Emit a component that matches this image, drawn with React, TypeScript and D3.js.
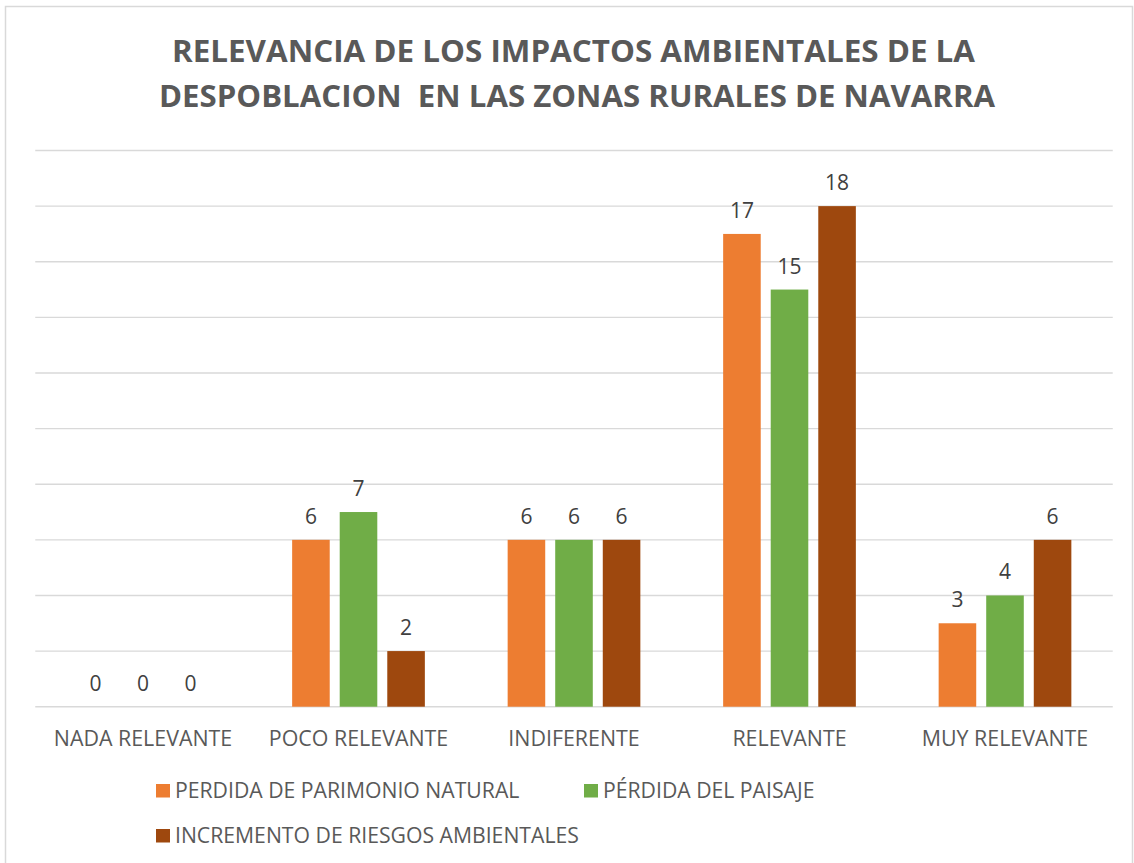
import React from "react";
import * as d3 from "d3";

const categories = ["NADA RELEVANTE", "POCO RELEVANTE", "INDIFERENTE", "RELEVANTE", "MUY RELEVANTE"];
const seriesNames = ["PERDIDA DE PARIMONIO NATURAL", "PÉRDIDA DEL PAISAJE", "INCREMENTO DE RIESGOS AMBIENTALES"];
const perdidaPatrimonio = [0, 6, 6, 17, 3];
const perdidaPaisaje = [0, 7, 6, 15, 4];
const incrementoRiesgos = [0, 2, 6, 18, 6];
const seriesColors = ["#ED7D31", "#70AD47", "#9E480E"];
const titleLines = ["RELEVANCIA DE LOS IMPACTOS AMBIENTALES DE LA", "DESPOBLACION  EN LAS ZONAS RURALES DE NAVARRA"];
const yTicks = [0, 2, 4, 6, 8, 10, 12, 14, 16, 18, 20];

const W = 1134;
const H = 863;

export default function App() {
  const series = [perdidaPatrimonio, perdidaPaisaje, incrementoRiesgos];
  const x0 = d3.scaleBand<string>().domain(categories).range([35.25, 1112.75]).paddingInner(0).paddingOuter(0);
  const groupW = 132.7;
  const x1 = d3
    .scaleBand<number>()
    .domain([0, 1, 2])
    .range([0, groupW])
    .paddingInner(0.21)
    .paddingOuter(0);
  const y = d3.scaleLinear().domain([0, 20]).range([706.7, 150.5]);
  const font = "'Open Sans', 'DejaVu Sans', sans-serif";

  return (
    <svg
      width={W}
      height={H}
      style={{ position: "absolute", left: 0, top: 0, background: "#fff" }}
      xmlns="http://www.w3.org/2000/svg"
    >
      <rect x={0} y={0} width={W} height={H} fill="#fff" />
      <rect x={5.5} y={6.5} width={1127} height={900} fill="none" stroke="#d9d9d9" strokeWidth={1.5} />

      {/* Title */}
      <text
        x={573.5}
        y={62}
        textAnchor="middle"
        fontFamily={font}
        fontWeight={700}
        fontSize={31}
        fill="#595959"
        textLength={803}
        lengthAdjust="spacingAndGlyphs"
      >
        {titleLines[0]}
      </text>
      <text
        x={577}
        y={107}
        textAnchor="middle"
        fontFamily={font}
        fontWeight={700}
        fontSize={31}
        fill="#595959"
        textLength={836}
        lengthAdjust="spacingAndGlyphs"
        style={{ whiteSpace: "pre" }}
      >
        {titleLines[1]}
      </text>

      {/* Gridlines */}
      {yTicks.map((t) => (
        <line
          key={t}
          x1={35.25}
          x2={1112.75}
          y1={y(t)}
          y2={y(t)}
          stroke="#d9d9d9"
          strokeWidth={1.4}
        />
      ))}

      {/* Bars */}
      {categories.map((c, ci) => {
        const gx = (x0(c) as number) + (x0.bandwidth() - groupW) / 2;
        return (
          <g key={c}>
            {series.map((s, si) => {
              const v = s[ci];
              const bx = gx + (x1(si) as number);
              const bw = x1.bandwidth();
              return (
                <g key={si}>
                  {v > 0 && (
                    <rect x={bx} y={y(v)} width={bw} height={y(0) - y(v)} fill={seriesColors[si]} />
                  )}
                  <text
                    x={bx + bw / 2}
                    y={y(v) - 16}
                    textAnchor="middle"
                    fontFamily={font}
                    fontSize={21}
                    fill="#404040"
                  >
                    {v}
                  </text>
                </g>
              );
            })}
            <text
              x={(x0(c) as number) + x0.bandwidth() / 2}
              y={745.5}
              textAnchor="middle"
              fontFamily={font}
              fontSize={21.4}
              fill="#595959"
            >
              {c}
            </text>
          </g>
        );
      })}

      {/* Legend */}
      {[
        { i: 0, x: 156, y: 784 },
        { i: 1, x: 584, y: 784 },
        { i: 2, x: 156, y: 829 },
      ].map(({ i, x, y: ly }) => (
        <g key={i}>
          <rect x={x} y={ly} width={14} height={13.5} fill={seriesColors[i]} />
          <text x={x + 19} y={ly + 14} fontFamily={font} fontSize={21.2} fill="#595959">
            {seriesNames[i]}
          </text>
        </g>
      ))}
    </svg>
  );
}
